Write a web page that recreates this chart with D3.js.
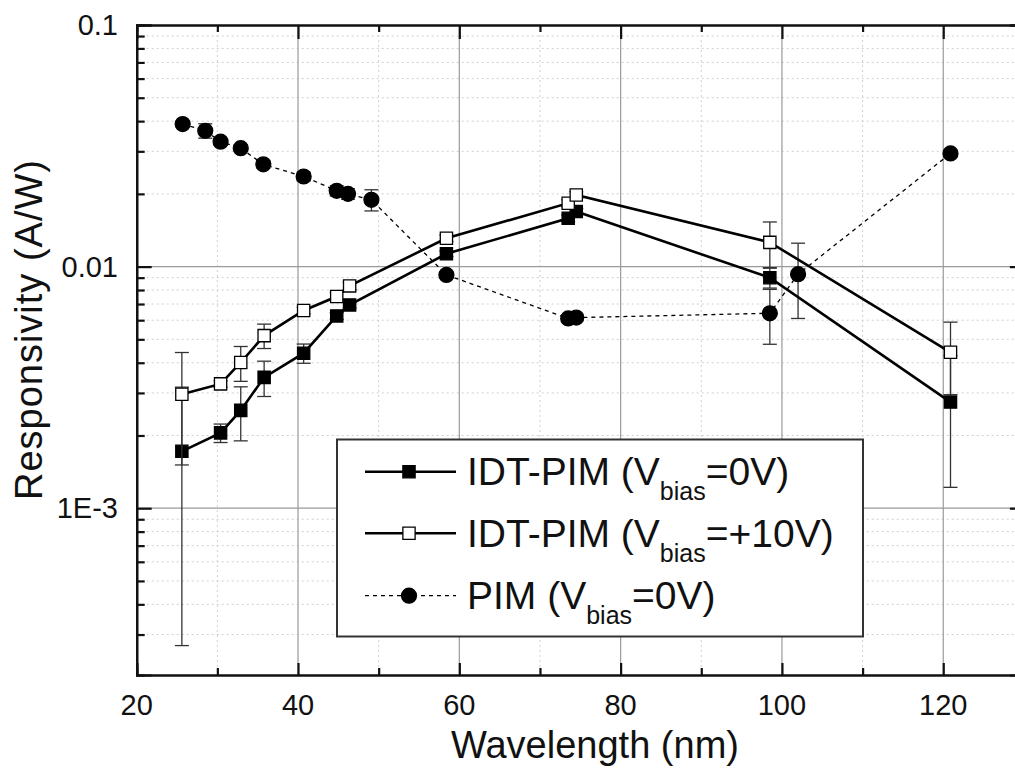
<!DOCTYPE html>
<html>
<head>
<meta charset="utf-8">
<script src="https://cdn.jsdelivr.net/npm/d3@7"></script>
<style>
  body { margin: 0; background: #fff; }
  svg { display: block; font-family: "Liberation Sans", Arial, sans-serif; }
  .tick-label { font-size: 29px; fill: #111; }
  .axis-title { font-size: 38px; fill: #111; }
  .legend-text { font-size: 39px; fill: #111; }
</style>
</head>
<body>
<svg id="chart" width="1015" height="769"></svg>
<script>
// wavelength (nm) of the IDT-PIM samples
const wavelengthIdt = [25.6, 30.4, 32.9, 35.8, 40.7, 44.8, 46.4, 58.4, 73.5, 74.5, 98.5, 120.9];
// IDT-PIM, Vbias = 0V
const idt0 = [1.72e-3, 2.05e-3, 2.54e-3, 3.48e-3, 4.38e-3, 6.25e-3, 6.94e-3, 1.13e-2, 1.585e-2, 1.69e-2, 9.0e-3, 2.75e-3];
const idt0Err = [1.45e-3, 0.18e-3, 0.64e-3, 0.58e-3, 0.4e-3, 0.2e-3, 0.2e-3, 0.3e-3, 0.5e-3, 0.5e-3, 0.85e-3, 1.53e-3];
// IDT-PIM, Vbias = +10V
const idt10 = [2.96e-3, 3.27e-3, 4.01e-3, 5.18e-3, 6.58e-3, 7.52e-3, 8.32e-3, 1.31e-2, 1.83e-2, 1.98e-2, 1.26e-2, 4.42e-3];
const idt10Err = [1.45e-3, 0.1e-3, 0.66e-3, 0.6e-3, 0.2e-3, 0.3e-3, 0.3e-3, 0.4e-3, 0.6e-3, 0.6e-3, 2.7e-3, 1.47e-3];
// PIM, Vbias = 0V
const wavelengthPim = [25.7, 28.5, 30.4, 32.9, 35.7, 40.7, 44.8, 46.2, 49.1, 58.4, 73.5, 74.5, 98.5, 102.0, 120.9];
const pim0 = [3.89e-2, 3.65e-2, 3.29e-2, 3.09e-2, 2.65e-2, 2.36e-2, 2.06e-2, 2.0e-2, 1.89e-2, 9.24e-3, 6.1e-3, 6.15e-3, 6.41e-3, 9.3e-3, 2.94e-2];
const pimErr = [1e-3, 2.5e-3, 1e-3, 1e-3, 1e-3, 1e-3, 1e-3, 1e-3, 1.9e-3, 0.3e-3, 0.2e-3, 0.2e-3, 1.64e-3, 3.2e-3, 1e-3];

const xTicks = [20, 40, 60, 80, 100, 120];
const xMinor = [30, 50, 70, 90, 110, 130];
const yTicks = [0.1, 0.01, 0.001];
const yTickLabels = ["0.1", "0.01", "1E-3"];
const legendLabels = [
    ["IDT-PIM (V", "bias", "=0V)"],
    ["IDT-PIM (V", "bias", "=+10V)"],
    ["PIM (V", "bias", "=0V)"]
];

let svg = d3.select("#chart");

let mLeft = 136.7, mRight = 1023.9, mTop = 25, mBottom = 675;
let xScale = d3.scaleLinear().domain([20, 130]).range([mLeft, mRight]);
let yScale = d3.scaleLog().domain([2.04e-4, 0.1]).range([mBottom, mTop]);

// minor ticks of the log axis: 2..9 in every decade
let yMinor = [];
[1e-4, 1e-3, 1e-2].forEach(function (d) {
    for (let k = 2; k <= 9; k++) {
        let v = k * d;
        if (v >= yScale.domain()[0] && v < 0.1) yMinor.push(v);
    }
});

// grid
let grid = svg.append("g");
grid.selectAll(".gx-minor").data(xMinor).enter().append("line")
    .attr("x1", d => xScale(d)).attr("x2", d => xScale(d))
    .attr("y1", mTop).attr("y2", mBottom)
    .attr("stroke", "#cfcfcf").attr("stroke-width", 1).attr("stroke-dasharray", "2,3");
grid.selectAll(".gy-minor").data(yMinor).enter().append("line")
    .attr("x1", mLeft).attr("x2", mRight)
    .attr("y1", d => yScale(d)).attr("y2", d => yScale(d))
    .attr("stroke", "#cfcfcf").attr("stroke-width", 1).attr("stroke-dasharray", "2,3");
grid.selectAll(".gx").data(xTicks.slice(1)).enter().append("line")
    .attr("x1", d => xScale(d)).attr("x2", d => xScale(d))
    .attr("y1", mTop).attr("y2", mBottom)
    .attr("stroke", "#9a9a9a").attr("stroke-width", 1.2);
grid.selectAll(".gy").data(yTicks.slice(1)).enter().append("line")
    .attr("x1", mLeft).attr("x2", mRight)
    .attr("y1", d => yScale(d)).attr("y2", d => yScale(d))
    .attr("stroke", "#9a9a9a").attr("stroke-width", 1.2);

// axes, ticks pointing inward
function addAxis(axisFn, scale, values, size, transform) {
    let g = svg.append("g")
        .attr("transform", transform)
        .call(axisFn(scale).tickValues(values).tickSize(size).tickFormat(""));
    g.select(".domain").attr("stroke", "#111").attr("stroke-width", 2.2);
    g.selectAll(".tick line").attr("stroke", "#111").attr("stroke-width", 2.2);
    return g;
}
addAxis(d3.axisTop, xScale, xTicks, 12, `translate(0,${mBottom})`);
addAxis(d3.axisTop, xScale, xMinor, 7, `translate(0,${mBottom})`);
addAxis(d3.axisBottom, xScale, xTicks, 14, `translate(0,${mTop})`);
addAxis(d3.axisBottom, xScale, xMinor, 7, `translate(0,${mTop})`);
addAxis(d3.axisRight, yScale, yTicks, 15, `translate(${mLeft},0)`);
addAxis(d3.axisRight, yScale, yMinor, 8, `translate(${mLeft},0)`);
addAxis(d3.axisLeft, yScale, yTicks, 14, `translate(${mRight},0)`);
addAxis(d3.axisLeft, yScale, yMinor, 7, `translate(${mRight},0)`);

// tick labels
svg.append("g").selectAll("text").data(xTicks).enter().append("text")
    .attr("class", "tick-label")
    .attr("x", d => xScale(d)).attr("y", 715)
    .attr("text-anchor", "middle")
    .text(d => d);
svg.append("g").selectAll("text").data(yTicks).enter().append("text")
    .attr("class", "tick-label")
    .attr("x", 118).attr("y", d => yScale(d) + 10)
    .attr("text-anchor", "end")
    .text((d, i) => yTickLabels[i]);

// axis titles
svg.append("text").attr("class", "axis-title")
    .attr("x", 595).attr("y", 758)
    .attr("text-anchor", "middle")
    .text("Wavelength (nm)");
svg.append("text").attr("class", "axis-title")
    .attr("transform", `translate(${42},${330}) rotate(270)`)
    .attr("text-anchor", "middle")
    .attr("textLength", 340)
    .text("Responsivity (A/W)");

// one series: error bars, connecting line, markers
function drawSeries(xs, ys, errs, opts) {
    let g = svg.append("g");
    let pts = xs.map((x, i) => ({x: x, y: ys[i], e: errs[i]}));
    let eb = g.append("g").selectAll("g").data(pts).enter().append("g")
        .attr("stroke", "#333").attr("stroke-width", 1.3);
    eb.append("line")
        .attr("x1", d => xScale(d.x)).attr("x2", d => xScale(d.x))
        .attr("y1", d => yScale(d.y + d.e)).attr("y2", d => yScale(d.y - d.e));
    eb.append("line")
        .attr("x1", d => xScale(d.x) - 7).attr("x2", d => xScale(d.x) + 7)
        .attr("y1", d => yScale(d.y + d.e)).attr("y2", d => yScale(d.y + d.e));
    eb.append("line")
        .attr("x1", d => xScale(d.x) - 7).attr("x2", d => xScale(d.x) + 7)
        .attr("y1", d => yScale(d.y - d.e)).attr("y2", d => yScale(d.y - d.e));

    let line = d3.line().x(d => xScale(d.x)).y(d => yScale(d.y));
    g.append("path").datum(pts)
        .attr("d", line)
        .attr("fill", "none")
        .attr("stroke", "#000")
        .attr("stroke-width", opts.width)
        .attr("stroke-dasharray", opts.dash);

    g.append("g").selectAll("path").data(pts).enter().append("path")
        .attr("transform", d => `translate(${xScale(d.x)},${yScale(d.y)})`)
        .attr("d", opts.symbol)
        .attr("fill", opts.fill)
        .attr("stroke", "#000")
        .attr("stroke-width", 1.3);
}

let squareSym = d3.symbol().type(d3.symbolSquare).size(150)();
let circleSym = d3.symbol().type(d3.symbolCircle).size(175)();

drawSeries(wavelengthPim, pim0, pimErr, {width: 1.3, dash: "4,4", symbol: circleSym, fill: "#000"});
drawSeries(wavelengthIdt, idt0, idt0Err, {width: 2.6, dash: null, symbol: squareSym, fill: "#000"});
drawSeries(wavelengthIdt, idt10, idt10Err, {width: 2.6, dash: null, symbol: squareSym, fill: "#fff"});

// legend
let legend = svg.append("g");
legend.append("rect")
    .attr("x", 337).attr("y", 439.5).attr("width", 526).attr("height", 197)
    .attr("fill", "#fff").attr("stroke", "#333").attr("stroke-width", 2);
let legendRows = [
    {y: 471.7, width: 2.6, dash: null, symbol: squareSym, fill: "#000"},
    {y: 533.3, width: 2.6, dash: null, symbol: squareSym, fill: "#fff"},
    {y: 595.7, width: 1.3, dash: "4,4", symbol: circleSym, fill: "#000"}
];
legendRows.forEach(function (r, i) {
    legend.append("line")
        .attr("x1", 365).attr("x2", 456).attr("y1", r.y).attr("y2", r.y)
        .attr("stroke", "#000").attr("stroke-width", r.width)
        .attr("stroke-dasharray", r.dash);
    legend.append("path")
        .attr("transform", `translate(${409},${r.y})`)
        .attr("d", r.symbol).attr("fill", r.fill)
        .attr("stroke", "#000").attr("stroke-width", 1.3);
    let t = legend.append("text").attr("class", "legend-text")
        .attr("x", 467).attr("y", r.y + 13.5);
    t.append("tspan").text(legendLabels[i][0]);
    t.append("tspan").attr("dy", 15).style("font-size", "25px").text(legendLabels[i][1]);
    t.append("tspan").attr("dy", -15).text(legendLabels[i][2]);
});
</script>
</body>
</html>
